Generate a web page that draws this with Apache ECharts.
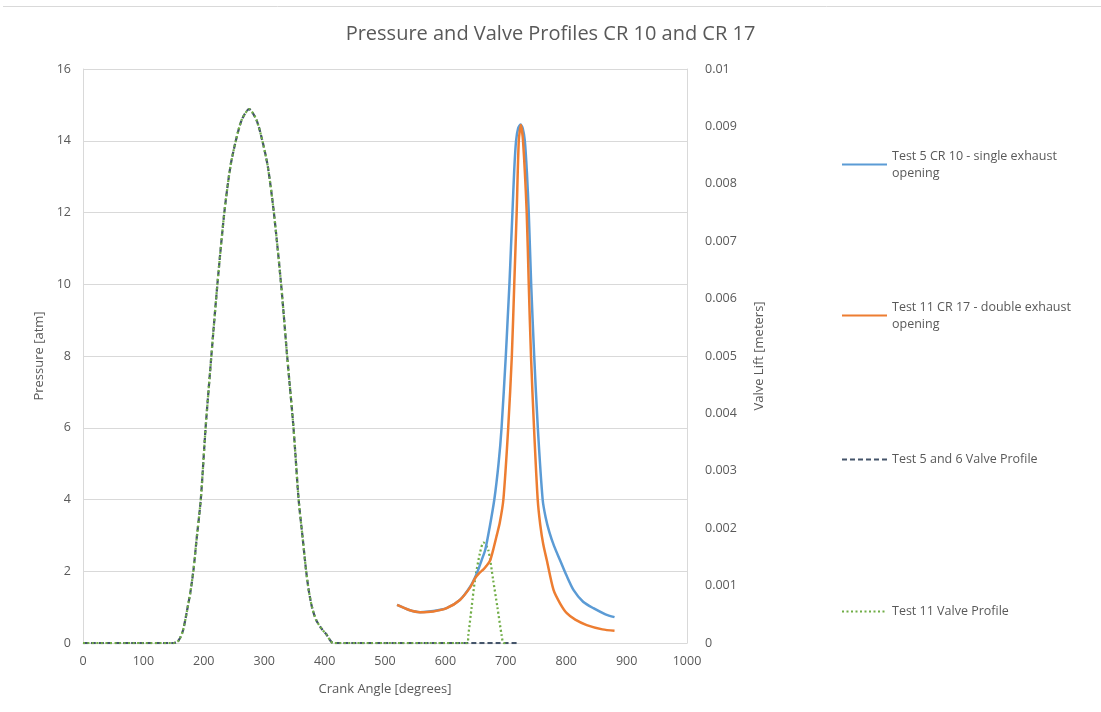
<!DOCTYPE html>
<html>
<head>
<meta charset="utf-8">
<script src="https://cdn.jsdelivr.net/npm/echarts@6/dist/echarts.min.js"></script>
<style>
  html, body { margin: 0; padding: 0; background: #fff; }
  #chart { width: 1101px; height: 712px; }
</style>
</head>
<body>
<div id="chart"></div>
<script>
// crank angle [deg] / pressure [atm]
const cr10Angle = [520, 540, 558, 580, 602, 624, 641, 652, 660, 666, 673, 681, 688, 693, 700, 703, 706, 708.5, 711, 714, 717, 720.5, 724.5, 728, 731.5, 735, 738, 742, 747, 753, 761, 766, 772, 780, 790, 800, 812, 828, 845, 865, 880];
const cr10Pressure = [1.06, 0.92, 0.86, 0.89, 0.97, 1.2, 1.57, 1.94, 2.31, 2.6, 3.2, 4.0, 5.0, 6.0, 8.0, 9.0, 10.0, 11.0, 12.0, 13.2, 14.0, 14.35, 14.45, 14.35, 14.0, 13.1, 12.0, 10.0, 8.0, 6.0, 4.0, 3.5, 3.1, 2.7, 2.3, 1.9, 1.48, 1.15, 0.97, 0.8, 0.72];

const cr17Angle = [520, 540, 558, 580, 602, 624, 641, 649, 656, 663, 668, 674, 679, 685, 690, 696, 704, 710, 714, 718, 721.5, 725, 728.5, 734.6, 738, 741.7, 746.7, 752.8, 757, 762, 768, 779, 790, 801, 815, 834, 860, 880];
const cr17Pressure = [1.06, 0.92, 0.86, 0.88, 0.97, 1.2, 1.55, 1.8, 1.95, 2.05, 2.15, 2.3, 2.59, 3.0, 3.35, 4.0, 6.0, 8.0, 10.0, 12.0, 14.0, 14.44, 14.0, 12.0, 10.0, 8.0, 6.0, 4.0, 3.3, 2.75, 2.3, 1.48, 1.1, 0.83, 0.65, 0.5, 0.38, 0.34];

// crank angle [deg] / valve lift [m]
const valve56Angle = [0, 100, 150, 158, 165, 172, 178, 183, 188, 195, 203, 212.5, 222.5, 234, 244, 253, 263, 275, 287, 297, 306, 316, 328, 338, 348.5, 357, 364, 369.5, 374, 379, 386, 395, 403, 409, 414, 500, 600, 720];
const valve56Lift = [0, 0, 0, 0.00004, 0.0002, 0.00055, 0.0009, 0.00128, 0.0018, 0.0025, 0.00375, 0.005, 0.00625, 0.0075, 0.0083, 0.00875, 0.00912, 0.0093, 0.00912, 0.00875, 0.0083, 0.0075, 0.00625, 0.005, 0.00375, 0.0025, 0.0018, 0.00125, 0.0009, 0.00063, 0.0004, 0.00025, 0.00015, 0.00005, 0, 0, 0, 0];

const valve11Angle = [0, 100, 150, 158, 165, 172, 178, 183, 188, 195, 203, 212.5, 222.5, 234, 244, 253, 263, 275, 287, 297, 306, 316, 328, 338, 348.5, 357, 364, 369.5, 374, 379, 386, 395, 403, 409, 414, 500, 600, 636, 638, 643.5, 649, 657, 663, 671, 679, 686, 693, 696, 700];
const valve11Lift = [0, 0, 0, 0.00004, 0.0002, 0.00055, 0.0009, 0.00128, 0.0018, 0.0025, 0.00375, 0.005, 0.00625, 0.0075, 0.0083, 0.00875, 0.00912, 0.0093, 0.00912, 0.00875, 0.0083, 0.0075, 0.00625, 0.005, 0.00375, 0.0025, 0.0018, 0.00125, 0.0009, 0.00063, 0.0004, 0.00025, 0.00015, 0.00005, 0, 0, 0, 0, 0.00014, 0.00063, 0.0011, 0.00156, 0.00175, 0.00162, 0.0011, 0.00063, 0.00014, 0, 0];

const seriesNames = [
  "Test 5 CR 10 - single exhaust opening",
  "Test 11 CR 17 - double exhaust opening",
  "Test 5 and 6 Valve Profile",
  "Test 11 Valve Profile"
];

function pairs(xs, ys) {
  return xs.map((x, i) => [x, ys[i]]);
}

const chart = echarts.init(document.getElementById("chart"));
const fontFamily = "'Open Sans', 'Liberation Sans', sans-serif";
const txt = "#595959";

function legendAt(name, top, label) {
  return {
    data: [name],
    left: 836,
    top: top,
    itemWidth: 45,
    itemHeight: 14,
    itemGap: 0,
    itemStyle: { opacity: 0 },
    formatter: function () { return label; },
    textStyle: {
      color: txt,
      fontSize: 12.5,
      fontFamily: fontFamily,
      lineHeight: 17,
      padding: label.indexOf("\n") >= 0 ? [17, 0, 0, 0] : 0
    }
  };
}

chart.setOption({
  backgroundColor: "#fff",
  animation: false,
  title: {
    text: "Pressure and Valve Profiles CR 10 and CR 17",
    left: "center",
    top: 19,
    textStyle: { color: txt, fontSize: 20, fontWeight: "normal", fontFamily: fontFamily }
  },
  graphic: [
    { type: "line", shape: { x1: 3, y1: 6.5, x2: 1101, y2: 6.5 }, style: { stroke: "#D9D9D9", lineWidth: 1 } }
  ],
  legend: [
    legendAt(seriesNames[0], 134, "Test 5 CR 10 - single exhaust\nopening"),
    legendAt(seriesNames[1], 285, "Test 11 CR 17 - double exhaust\nopening"),
    legendAt(seriesNames[2], 446, "Test 5 and 6 Valve Profile"),
    legendAt(seriesNames[3], 598, "Test 11 Valve Profile")
  ],
  grid: { left: 83, right: 414, top: 69, bottom: 69 },
  xAxis: {
    type: "value",
    min: 0,
    max: 1000,
    interval: 100,
    name: "Crank Angle [degrees]",
    nameLocation: "middle",
    nameGap: 40,
    nameTextStyle: { color: txt, fontSize: 13, fontFamily: fontFamily },
    axisLine: { show: true, onZero: false, lineStyle: { color: "#D9D9D9" } },
    axisTick: { show: false },
    splitLine: { show: false },
    axisLabel: {
      color: txt, fontSize: 12.5, fontFamily: fontFamily, margin: 12,
      formatter: function (v) { return String(v); }
    }
  },
  yAxis: [
    {
      type: "value",
      min: 0,
      max: 16,
      interval: 2,
      name: "Pressure [atm]",
      nameLocation: "middle",
      nameRotate: 90,
      nameGap: 37,
      nameTextStyle: { color: txt, fontSize: 13, fontFamily: fontFamily },
      axisLine: { show: true, lineStyle: { color: "#D9D9D9" } },
      axisTick: { show: false },
      splitLine: { lineStyle: { color: "#D9D9D9" } },
      axisLabel: { color: txt, fontSize: 12.5, fontFamily: fontFamily, margin: 12 }
    },
    {
      type: "value",
      min: 0,
      max: 0.01,
      interval: 0.001,
      position: "right",
      name: "Valve Lift [meters]",
      nameLocation: "middle",
      nameRotate: 90,
      nameGap: 66,
      nameTextStyle: { color: txt, fontSize: 13, fontFamily: fontFamily },
      axisLine: { show: true, lineStyle: { color: "#D9D9D9" } },
      axisTick: { show: false },
      splitLine: { show: false },
      axisLabel: {
        color: txt, fontSize: 12.5, fontFamily: fontFamily, margin: 18,
        formatter: function (v) { return v === 0 ? "0" : String(+v.toFixed(3)); }
      }
    }
  ],
  series: [
    {
      name: seriesNames[2],
      type: "line",
      yAxisIndex: 1,
      data: pairs(valve56Angle, valve56Lift),
      symbol: "none",
      smooth: 0.25,
      color: "#44546A",
      lineStyle: { width: 2.25, type: [5, 3], color: "#44546A" }
    },
    {
      name: seriesNames[3],
      type: "line",
      yAxisIndex: 1,
      data: pairs(valve11Angle, valve11Lift),
      symbol: "none",
      smooth: 0.25,
      color: "#70AD47",
      lineStyle: { width: 2.25, type: [2, 2.5], color: "#70AD47" }
    },
    {
      name: seriesNames[0],
      type: "line",
      data: pairs(cr10Angle, cr10Pressure),
      symbol: "none",
      smooth: 0.25,
      color: "#5B9BD5",
      lineStyle: { width: 2.5, color: "#5B9BD5" }
    },
    {
      name: seriesNames[1],
      type: "line",
      data: pairs(cr17Angle, cr17Pressure),
      symbol: "none",
      smooth: 0.25,
      color: "#ED7D31",
      lineStyle: { width: 2.5, color: "#ED7D31" }
    }
  ]
});
</script>
</body>
</html>
